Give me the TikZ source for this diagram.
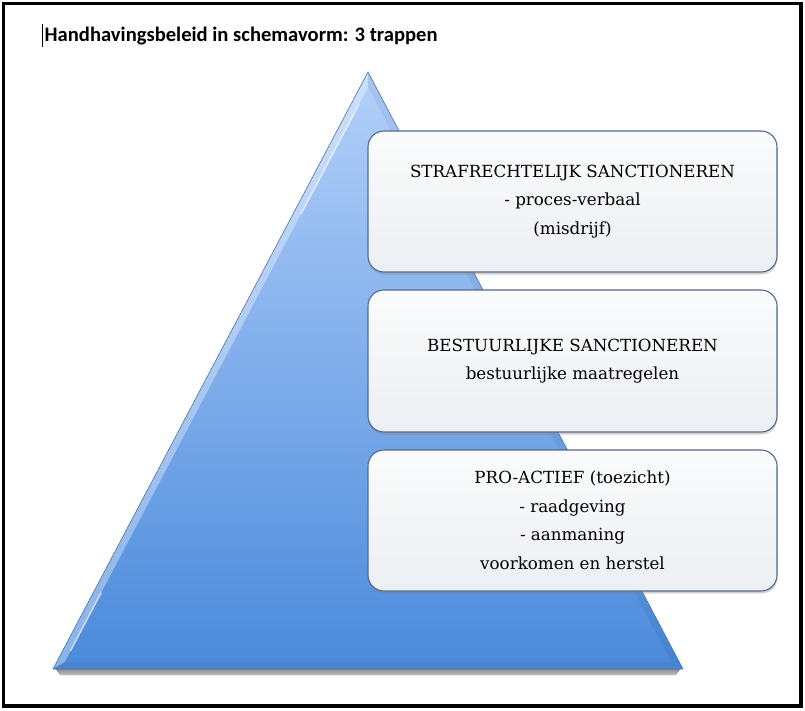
\documentclass[tikz,border=0pt]{standalone}
\usepackage{fontspec}
\setmainfont{DejaVu Serif}
\newfontfamily\titlefont{Carlito}
\usetikzlibrary{shadows,calc}
\definecolor{triTop}{HTML}{B3D0FA}
\definecolor{triBot}{HTML}{4A8ADB}
\definecolor{triEdge}{HTML}{4A73AE}
\definecolor{boxLine}{HTML}{56698A}
\definecolor{boxTop}{HTML}{FAFBFC}
\definecolor{boxBot}{HTML}{ECEFF3}
\begin{document}
\begin{tikzpicture}[x=1pt,y=-1pt,
  stagebox/.style={draw=boxLine, line width=1.1pt, rounded corners=16pt,
    top color=boxTop, bottom color=boxBot,
    minimum width=409pt, inner sep=0pt, align=center,
    font=\fontsize{16.7}{28.5}\selectfont, text=black,
    drop shadow={shadow xshift=0.5pt, shadow yshift=-2.5pt, opacity=0.35}}
]
\useasboundingbox (0,0) rectangle (805,711);
\fill[white] (0,0) rectangle (805,711);
\draw[line width=3.5pt] (3.5,3.5) rectangle (801,706);

% title and text cursor
\coordinate (cur1) at (42.3,24);
\coordinate (cur2) at (42.3,47);
\draw[line width=0.9pt] (cur1) -- (cur2);
\node[anchor=base west, inner sep=0pt, font=\titlefont\bfseries\fontsize{20.6}{24}\selectfont] (title) at (44.5,42) {Handhavingsbeleid in schemavorm: 3 trappen};

% pyramid
\coordinate (apex) at (368,72);
\coordinate (bl) at (53,669);
\coordinate (br) at (683,669);
\coordinate (ia) at (368,87);
\coordinate (ibl) at (64.6,662);
\coordinate (ibr) at (671.4,662);
\fill[top color=black!40, bottom color=white, opacity=0.6] (55,668) -- (681,668) -- (676,675) -- (60,675) -- cycle;
\shade[top color=triTop, bottom color=triBot] (apex) -- (br) -- (bl) -- cycle;
\fill[white, opacity=0.35] (apex) -- (bl) -- (ibl) -- (ia) -- cycle;
\fill[triEdge, opacity=0.25] (bl) -- (br) -- (ibr) -- (ibl) -- cycle;
\fill[black, opacity=0.05] (apex) -- (br) -- (ibr) -- (ia) -- cycle;
\draw[white, opacity=0.6, line width=1.5pt, line cap=round] ($(ibl)!0.02!(ia)$) -- ($(ibl)!0.12!(ia)$);
\draw[white, opacity=0.6, line width=1.5pt, line cap=round] ($(ibl)!0.78!(ia)$) -- ($(ibl)!0.97!(ia)$);
\draw[triEdge, line width=0.6pt, line join=miter] (apex) -- (br) -- (bl) -- cycle;

% stages
\node[stagebox, minimum height=141pt] (s1) at (572.5,201.5)
  {STRAFRECHTELIJK SANCTIONEREN\\- proces-verbaal\\(misdrijf)};
\node[stagebox, minimum height=142pt] (s2) at (572.5,361)
  {BESTUURLIJKE SANCTIONEREN\\bestuurlijke maatregelen};
\node[stagebox, minimum height=141pt] (s3) at (572.5,520.5)
  {PRO-ACTIEF (toezicht)\\- raadgeving\\- aanmaning\\voorkomen en herstel};
\end{tikzpicture}
\end{document}
